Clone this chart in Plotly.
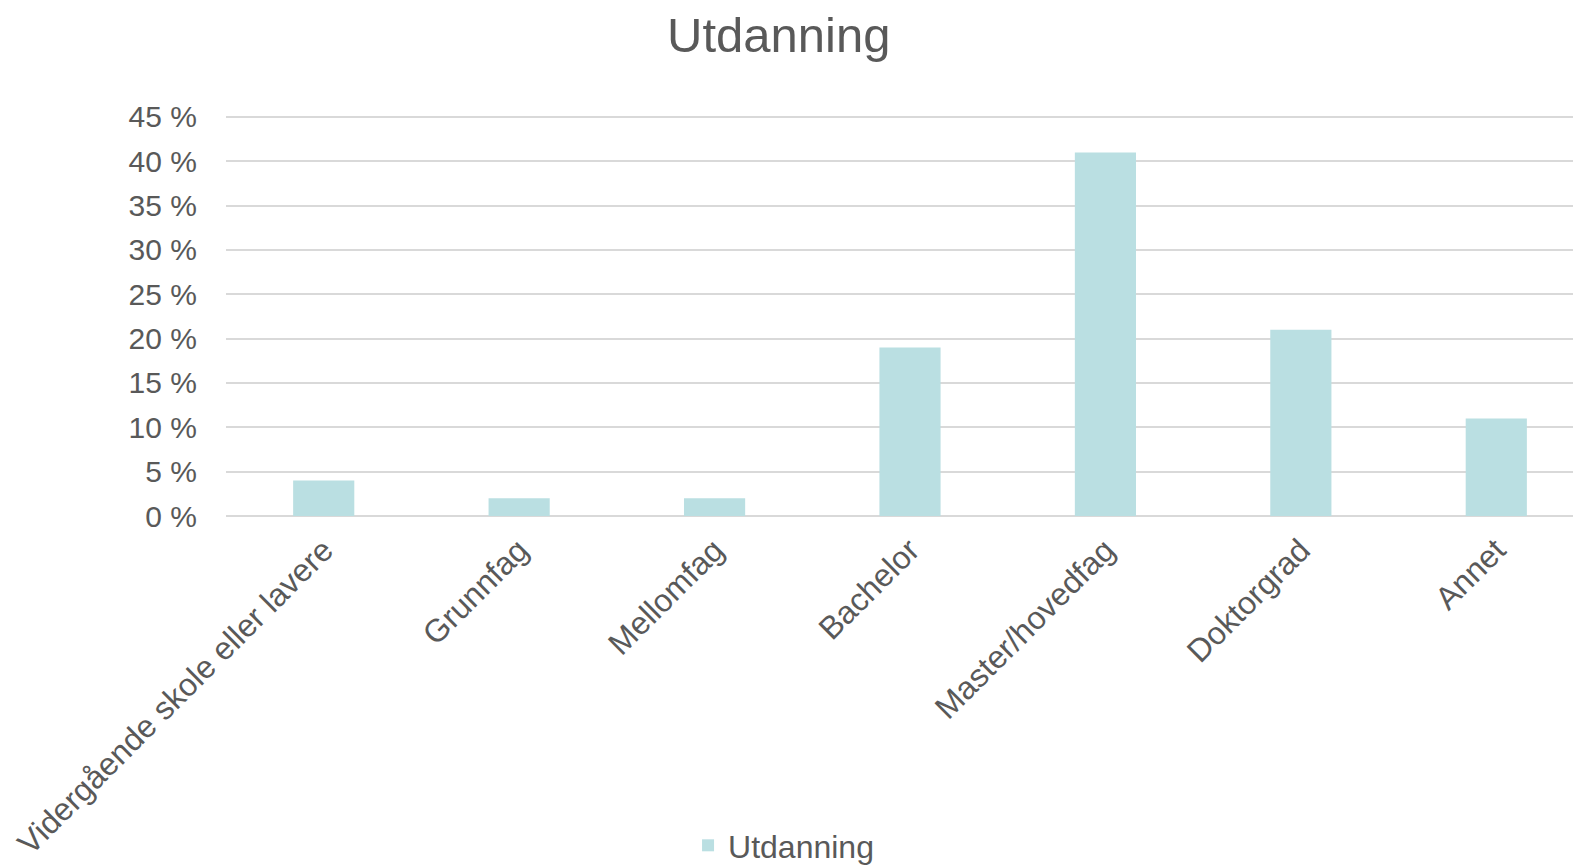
import plotly.graph_objects as go

categories = ["Vidergående skole eller lavere", "Grunnfag", "Mellomfag", "Bachelor",
              "Master/hovedfag", "Doktorgrad", "Annet"]
shares = [4, 2, 2, 19, 41, 21, 11]
y_ticks = [0, 5, 10, 15, 20, 25, 30, 35, 40, 45]
y_labels = [f"{v} %" for v in y_ticks]

FONT = "Liberation Sans, Arial, sans-serif"
GREY = "#595959"

fig = go.Figure(go.Bar(x=categories, y=shares, name="Utdanning",
                       marker=dict(color="#BADFE2", line=dict(width=0))))

# page body has an 8px margin, so everything below is offset by that
fig.update_layout(
    width=1586, height=865,
    plot_bgcolor="white", paper_bgcolor="white",
    margin=dict(l=218, r=0, t=104, b=357, autoexpand=False),
    bargap=0.687,
    font=dict(family=FONT, color=GREY, size=30),
    title=dict(text="Utdanning", x=0.486, xref="container", xanchor="center",
               y=0.969, yref="container", yanchor="middle",
               font=dict(size=49, color=GREY, family=FONT)),
    showlegend=True,
    legend=dict(orientation="h", x=0.489, xref="container", xanchor="center",
                y=0.0, yref="container", yanchor="bottom",
                font=dict(size=32, color=GREY), itemwidth=30),
)
fig.update_xaxes(tickangle=-45, showgrid=False, showline=False, ticks="",
                 automargin=False,
                 tickfont=dict(size=32, color=GREY), ticklabelstandoff=8)
fig.update_yaxes(range=[0, 45.56], tickvals=y_ticks, ticktext=y_labels,
                 automargin=False,
                 showgrid=True, gridcolor="#D9D9D9", gridwidth=2,
                 zeroline=True, zerolinecolor="#D9D9D9", zerolinewidth=2,
                 showline=False, ticks="", ticklabelstandoff=28,
                 tickfont=dict(size=30, color=GREY))

fig.write_html("out.html")
